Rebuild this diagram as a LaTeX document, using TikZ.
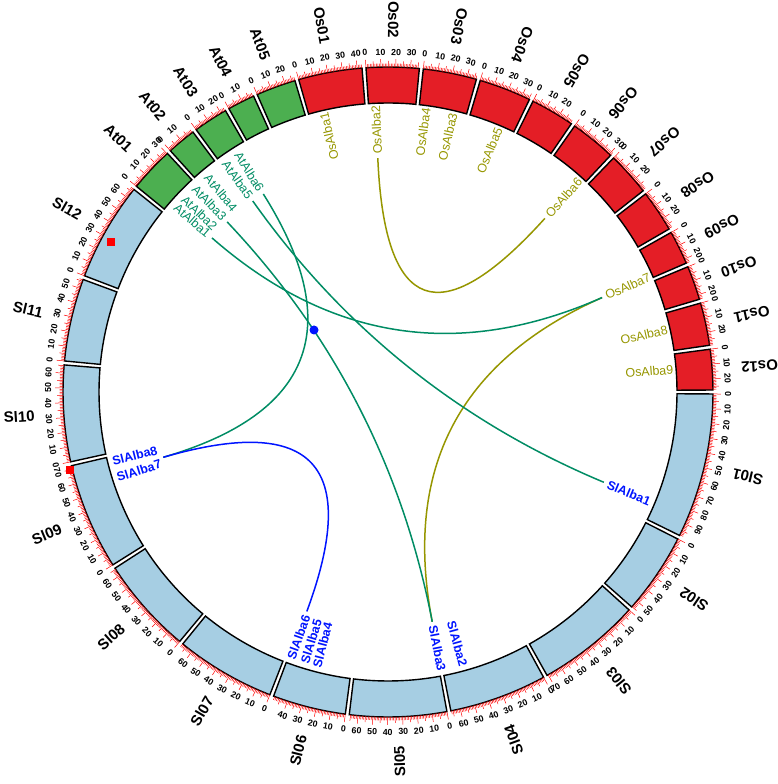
\documentclass[tikz,border=0pt]{standalone}
\usepackage{fontspec}
\setmainfont{Liberation Sans}
\usetikzlibrary{calc}
\definecolor{osred}{RGB}{228,30,38}
\definecolor{atgreen}{RGB}{76,175,80}
\definecolor{slblue}{RGB}{166,206,227}
\definecolor{olivec}{RGB}{150,150,0}
\definecolor{tealc}{RGB}{0,140,100}
\definecolor{bluec}{RGB}{0,20,255}
\definecolor{tickred}{RGB}{255,0,0}
\tikzset{
 ticklab/.style={font=\bfseries\fontsize{8.8}{8.8}\selectfont, inner sep=0pt},
 chrlab/.style={font=\bfseries\fontsize{15}{15}\selectfont, inner sep=0pt, anchor=east},
 genelab/.style={font=\fontsize{12.5}{12.5}\selectfont, inner sep=0pt},
 seg/.style={draw=black, line width=1.4pt},
 tickmark/.style={draw=tickred, line width=0.5pt},
 oslink/.style={draw=olivec, line width=1.5pt},
 atlink/.style={draw=tealc, line width=1.5pt},
 sllink/.style={draw=bluec, line width=1.5pt},
 redsq/.style={fill=red, minimum size=8pt, inner sep=0pt, draw=none},
}
\newcommand\geneout[4]{\node[genelab, text=#3, anchor=west, rotate=90-(#2)] (#1) at ({90-(#2)}:238) {#4};}
\newcommand\genein[4]{\node[genelab, text=#3, anchor=east, rotate=270-(#2)] (#1) at ({90-(#2)}:238) {#4};}
\newcommand\chord[3]{\draw[#1] (#2) .. controls ($(#2)!0.6667!(O)$) and ($(#3)!0.6667!(O)$) .. (#3);}
\begin{document}
\begin{tikzpicture}[x=1pt,y=1pt]
\useasboundingbox (0,0) rectangle (777,784);
\begin{scope}[shift={(388,392)}]
\coordinate (O) at (0,0);
\foreach \nm/\st/\len/\col in {
 Os01/-15.95/43.3/osred, Os02/-3.885/35.9/osred, Os03/6.237/36.4/osred, Os04/16.491/35.5/osred,
 Os05/26.508/29.9/osred, Os06/35.056/31.2/osred, Os07/43.945/29.7/osred, Os08/52.44/28.4/osred,
 Os09/60.594/23.0/osred, Os10/67.331/23.2/osred, Os11/74.12/29.0/osred, Os12/82.431/27.5/osred,
 Sl01/90.349/98.5/slblue, Sl02/116.901/55.3/slblue, Sl03/132.115/70.8/slblue, Sl04/151.397/66.5/slblue,
 Sl05/169.551/65.9/slblue, Sl06/187.547/49.8/slblue, Sl07/201.318/68.0/slblue, Sl08/219.865/65.9/slblue,
 Sl09/237.861/72.5/slblue, Sl10/257.589/65.5/slblue, Sl11/275.48/56.3/slblue, Sl12/290.957/67.1/slblue,
 At01/309.268/30.4/atgreen, At02/317.947/19.7/atgreen, At03/323.817/23.5/atgreen, At04/330.685/18.6/atgreen,
 At05/336.267/27.0/atgreen}{
  \pgfmathsetmacro\en{\st+\len*0.26246}
  \pgfmathsetmacro\ts{90-(\st)}
  \pgfmathsetmacro\te{90-(\en)}
  \filldraw[seg, fill=\col] (\ts:289) arc[start angle=\ts, end angle=\te, radius=289] -- (\te:325) arc[start angle=\te, end angle=\ts, radius=325] -- cycle;
  \pgfmathtruncatemacro\nmax{floor(\len)}
  \foreach \mb in {0,...,\nmax}{
    \pgfmathsetmacro\ang{\st+\mb*0.26246}
    \pgfmathsetmacro\pa{90-(\ang)}
    \pgfmathtruncatemacro\modten{mod(\mb,10)}
    \pgfmathtruncatemacro\modfive{mod(\mb,5)}
    \pgfmathsetmacro\tlen{325+ifthenelse(\modten==0,8,ifthenelse(\modfive==0,6,3.5))}
    \draw[tickmark] (\pa:325) -- (\pa:\tlen);
    \ifnum\modten=0
      \pgfmathsetmacro\rot{ifthenelse(and(\ang>90,\ang<270),180-(\ang),-(\ang))}
      \node[ticklab, rotate=\rot] (t-\nm-\mb) at (\pa:340) {\mb};
    \fi
  }
  \pgfmathsetmacro\midang{(\st+\en)/2}
  \pgfmathsetmacro\pm{90-(\midang)}
  \pgfmathsetmacro\cr{270-(\midang)}
  \node[chrlab, rotate=\cr] (c-\nm) at (\pm:354) {\nm};
}
% markers
\node[redsq] (sq1) at ({90-298.5}:315) {};
\node[redsq] (sq2) at ({90-256.2}:327) {};
% gene labels
\geneout{gOs1}{-13}{olivec}{OsAlba1}
\geneout{gOs2}{-2.5}{olivec}{OsAlba2}
\geneout{gOs4}{7.7}{olivec}{OsAlba4}
\geneout{gOs3}{13.2}{olivec}{OsAlba3}
\geneout{gOs5}{22.8}{olivec}{OsAlba5}
\geneout{gOs6}{42.1}{olivec}{OsAlba6}
\geneout{gOs7}{66.2}{olivec}{OsAlba7}
\geneout{gOs8}{77.5}{olivec}{OsAlba8}
\geneout{gOs9}{85.5}{olivec}{OsAlba9}
\geneout{gSl1}{112.7}{bluec}{\bfseries SlAlba1}
\geneout{gSl2}{164.6}{bluec}{\bfseries SlAlba2}
\geneout{gSl3}{169.1}{bluec}{\bfseries SlAlba3}
\genein{gSl4}{194.5}{bluec}{\bfseries SlAlba4}
\genein{gSl5}{197.1}{bluec}{\bfseries SlAlba5}
\genein{gSl6}{200.0}{bluec}{\bfseries SlAlba6}
\genein{gSl7}{252.5}{bluec}{\bfseries SlAlba7}
\genein{gSl8}{255.9}{bluec}{\bfseries SlAlba8}
\genein{gAt1}{311.2}{tealc}{AtAlba1}
\genein{gAt2}{313.5}{tealc}{AtAlba2}
\genein{gAt3}{316.6}{tealc}{AtAlba3}
\genein{gAt4}{320.0}{tealc}{AtAlba4}
\genein{gAt5}{324.7}{tealc}{AtAlba5}
\genein{gAt6}{327.8}{tealc}{AtAlba6}
% link end points
\coordinate (lOs2) at ({90-(-2.5)}:234);
\coordinate (lOs6) at ({90-42.1}:234);
\coordinate (lOs7) at ({90-66.2}:234);
\coordinate (lSl1) at ({90-112.7}:234);
\coordinate (lSl3) at ({90-169.1}:234);
\coordinate (lSl6) at ({90-200.3}:234);
\coordinate (lSl7) at ({90-253.8}:234);
\coordinate (lAt1) at ({90-311.2}:234);
\coordinate (lAt3) at ({90-316.6}:234);
\coordinate (lAt5) at ({90-324.7}:234);
\coordinate (lAt6) at ({90-327.8}:234);
% links
\chord{oslink}{lOs2}{lOs6}
\chord{oslink}{lOs7}{lSl3}
\chord{atlink}{lAt1}{lOs7}
\chord{atlink}{lAt3}{lSl3}
\chord{atlink}{lAt5}{lSl1}
\chord{atlink}{lAt6}{lSl7}
\chord{sllink}{lSl7}{lSl6}
\node[circle, fill=bluec, minimum size=9pt, inner sep=0pt] (dot) at (-74,62) {};
\end{scope}
\end{tikzpicture}
\end{document}
